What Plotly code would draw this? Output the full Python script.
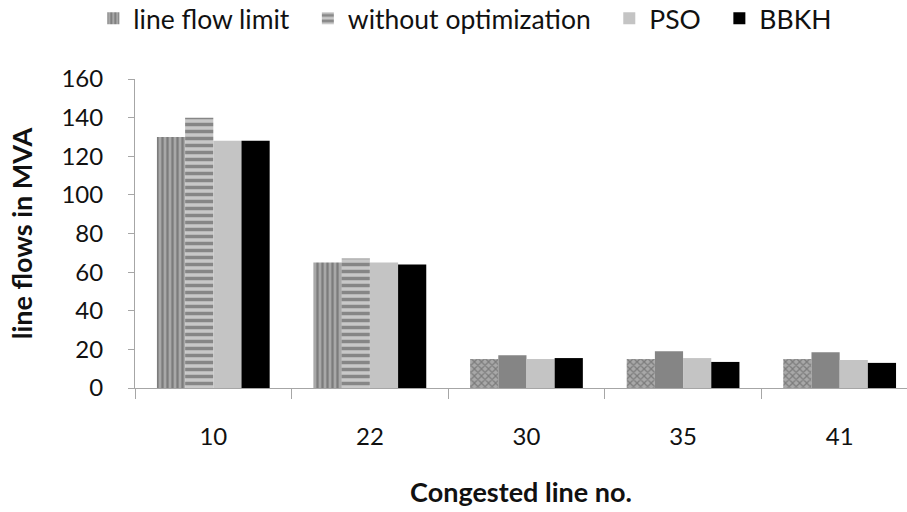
import plotly.graph_objects as go

categories = ["10", "22", "30", "35", "41"]
line_flow_limit = [130, 65, 15, 15, 15]
without_optimization = [140, 67, 17, 19, 18.5]
pso = [128, 65, 15, 15.5, 14.5]
bbkh = [128, 64, 15.5, 13.5, 13]
series_names = ["line flow limit", "without optimization", "PSO", "BBKH"]

pad = "\u00a0\u00a0"  # spacing between legend entries

fig = go.Figure()

fig.add_trace(go.Bar(
    name=series_names[0] + pad, x=categories, y=line_flow_limit,
    marker=dict(color="#a8a8a8", line=dict(width=0),
                pattern=dict(shape=["|", "|", "x", "x", "x"], fgcolor="#505050",
                             size=5, solidity=0.45)),
))
fig.add_trace(go.Bar(
    name=series_names[1] + pad, x=categories, y=without_optimization,
    marker=dict(color=["#c8c8c8", "#c8c8c8", "#858585", "#858585", "#858585"], line=dict(width=0),
                pattern=dict(shape=["-", "-", "", "", ""], fgcolor="#4a4a4a",
                             size=7, solidity=0.5)),
))
fig.add_trace(go.Bar(
    name=series_names[2] + pad, x=categories, y=pso,
    marker=dict(color="#c4c4c4", line=dict(width=0)),
))
fig.add_trace(go.Bar(
    name=series_names[3], x=categories, y=bbkh,
    marker=dict(color="#000000", line=dict(width=0)),
))

font_family = "Lato, 'Open Sans', sans-serif"

fig.update_layout(
    width=907, height=512,
    margin=dict(l=135, r=0, t=79, b=124, autoexpand=False),
    paper_bgcolor="white", plot_bgcolor="white",
    barmode="group", bargap=0.28, bargroupgap=0,
    font=dict(family=font_family, color="#111111", size=24),
    showlegend=True,
    legend=dict(orientation="h", xref="container", yref="container",
                x=0.1029, xanchor="left", y=0.964, yanchor="middle",
                font=dict(size=26.5, family=font_family), itemwidth=30,
                traceorder="normal"),
    xaxis=dict(
        type="category", range=[-0.5, 4.43], automargin=False,
        showline=True, linecolor="#a6a6a6", linewidth=1,
        ticks="outside", tickson="boundaries", ticklen=10, tickcolor="#a6a6a6",
        showgrid=False, tickfont=dict(size=24), ticklabelstandoff=27,
        title=dict(text="<b>Congested line no.</b>", font=dict(size=27), standoff=34),
    ),
    yaxis=dict(
        range=[0, 160], dtick=20, automargin=False,
        showline=True, linecolor="#a6a6a6", linewidth=1,
        ticks="outside", ticklen=6, tickcolor="#a6a6a6",
        showgrid=False, zeroline=False, tickfont=dict(size=24), ticklabelstandoff=20,
        title=dict(text="<b>line flows in MVA</b>", font=dict(size=27), standoff=20),
    ),
)

fig.write_html("out.html", config={"displayModeBar": False},
               post_script="document.body.style.margin='0';")
